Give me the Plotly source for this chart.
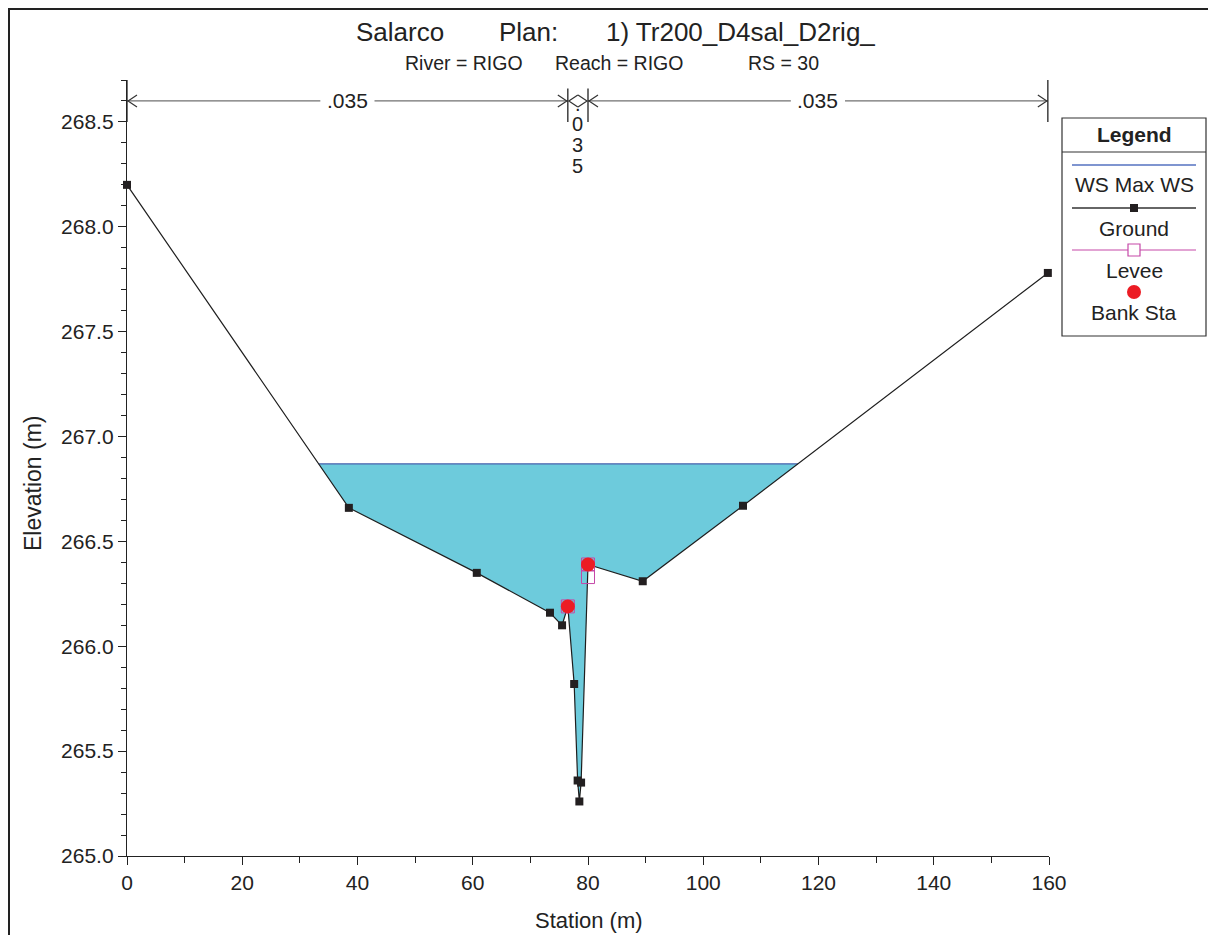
import numpy as np
import plotly.graph_objects as go

# ---------------- data ----------------
station = [0.0, 38.5, 60.7, 73.4, 75.5, 76.5, 77.6, 78.2, 78.5, 78.8, 80.0, 89.5, 106.9, 159.8]
elevation = [268.20, 266.66, 266.35, 266.16, 266.10, 266.19, 265.82, 265.36, 265.26, 265.35, 266.39, 266.31, 266.67, 267.78]
ws_elev = 266.87
levee_sta = [76.5, 80.0, 80.0]
levee_elev = [266.19, 266.39, 266.33]
bank_sta = [76.5, 80.0]
bank_elev = [266.19, 266.39]
n_breaks = [0.0, 76.5, 80.0, 159.8]
n_values = [".035", ".035", ".035"]
x_ticks = [0, 20, 40, 60, 80, 100, 120, 140, 160]
y_ticks = [265.0, 265.5, 266.0, 266.5, 267.0, 267.5, 268.0, 268.5]

# page body has an 8px margin: figure sits at (8, 8) in the window
O = 8
W, H = 1216 - O, 935 - O
L, R, T, B = 127 - O, 167, 80 - O, 79
XR = [0, 160]
YR = [265.0, 268.70]

def px(p):  # reference window pixel x -> paper
    return (p - O - L) / (W - L - R)

def py(p):  # reference window pixel y -> paper
    return (H - B - (p - O)) / (H - T - B)

FONT = "Liberation Sans, Arial, Helvetica, sans-serif"

# water surface intersections with ground
st = np.array(station)
el = np.array(elevation)
def crossings(st, el, ws):
    xs = []
    for i in range(len(st) - 1):
        a, b = el[i] - ws, el[i + 1] - ws
        if a == 0:
            xs.append(st[i])
        elif a * b < 0:
            xs.append(st[i] + (st[i + 1] - st[i]) * a / (a - b))
    return xs
cx = crossings(st, el, ws_elev)
xl, xr = cx[0], cx[-1]
inner = (st > xl) & (st < xr)
poly_x = [xl, xr] + list(st[inner][::-1]) + [xl]
poly_y = [ws_elev, ws_elev] + list(el[inner][::-1]) + [ws_elev]

fig = go.Figure()
fig.add_trace(go.Scatter(x=poly_x, y=poly_y, fill="toself", fillcolor="#6dcbdc",
                         line=dict(width=0), mode="lines", hoverinfo="skip", showlegend=False))
fig.add_trace(go.Scatter(x=[xl, xr], y=[ws_elev, ws_elev], mode="lines",
                         line=dict(color="#4a62ae", width=1.2), name="WS Max WS", showlegend=False))
fig.add_trace(go.Scatter(x=station, y=elevation, mode="lines+markers", cliponaxis=False,
                         line=dict(color="#1e1e1e", width=1.2),
                         marker=dict(symbol="square", size=8, color="#231f20"),
                         name="Ground", showlegend=False))
fig.add_trace(go.Scatter(x=levee_sta, y=levee_elev, mode="markers",
                         marker=dict(symbol="square-open", size=13, color="#c548a8", line=dict(width=1)),
                         name="Levee", showlegend=False))
fig.add_trace(go.Scatter(x=bank_sta, y=bank_elev, mode="markers",
                         marker=dict(symbol="circle", size=14, color="#ec1c24"),
                         name="Bank Sta", showlegend=False))

shapes = []
annotations = []

def ann(x, y, text, size=21, xref="paper", yref="paper", xanchor="center", **kw):
    d = dict(x=x, y=y, xref=xref, yref=yref, text=text, showarrow=False,
             xanchor=xanchor, yanchor="middle",
             font=dict(size=size, color="#222", family=FONT))
    d.update(kw)
    annotations.append(d)

# Manning's n bars and arrows
arrow_y = 268.60
gray = "#707070"
for i, nv in enumerate(n_values):
    a, b = n_breaks[i], n_breaks[i + 1]
    mid = (a + b) / 2
    wide = (b - a) > 20
    if wide:
        gap = 4.7
        shapes.append(dict(type="line", xref="x", yref="y", x0=a, x1=mid - gap, y0=arrow_y, y1=arrow_y,
                           line=dict(color=gray, width=1.2)))
        shapes.append(dict(type="line", xref="x", yref="y", x0=mid + gap, x1=b, y0=arrow_y, y1=arrow_y,
                           line=dict(color=gray, width=1.2)))
        ann(mid, arrow_y, nv, size=21, xref="x", yref="y")
    else:
        for k, ch in enumerate(list(nv)):
            yy = [268.585, 268.49, 268.39, 268.29][k]
            ann(mid, yy, ch, size=20, xref="x", yref="y")
    # chevrons
    shapes.append(dict(type="path", xref="x", yref="y", xsizemode="pixel", ysizemode="pixel",
                       xanchor=a, yanchor=arrow_y, path="M 10,6 L 1,0 L 10,-6",
                       line=dict(color="#333", width=1.2)))
    shapes.append(dict(type="path", xref="x", yref="y", xsizemode="pixel", ysizemode="pixel",
                       xanchor=b, yanchor=arrow_y, path="M -10,6 L -1,0 L -10,-6",
                       line=dict(color="#333", width=1.2)))
for j, xb in enumerate(n_breaks):
    top = 268.70 if j in (0, len(n_breaks) - 1) else 268.66
    shapes.append(dict(type="line", xref="x", yref="y", x0=xb, x1=xb, y0=268.50, y1=top,
                       line=dict(color="#222", width=1.3)))

# outer frame
shapes.append(dict(type="rect", xref="paper", yref="paper", x0=px(8.5), x1=px(1211.5), y0=py(960), y1=py(8.5),
                   line=dict(color="#222", width=3)))

# legend box
lx0, lx1 = 1062, 1206
shapes.append(dict(type="rect", xref="paper", yref="paper", x0=px(lx0), x1=px(lx1), y0=py(336), y1=py(118),
                   line=dict(color="#333", width=1.2), fillcolor="white", layer="above"))
shapes.append(dict(type="line", xref="paper", yref="paper", x0=px(lx0), x1=px(lx1), y0=py(152), y1=py(152),
                   line=dict(color="#333", width=1.2)))
lc = 1134
ann(px(lc), py(135), "<b>Legend</b>")
# WS
shapes.append(dict(type="line", xref="paper", yref="paper", x0=px(1072), x1=px(1196), y0=py(165), y1=py(165),
                   line=dict(color="#5572c0", width=1.3)))
ann(px(lc), py(185), "WS Max WS")
# Ground
shapes.append(dict(type="line", xref="paper", yref="paper", x0=px(1072), x1=px(1196), y0=py(208), y1=py(208),
                   line=dict(color="#333", width=1.3)))
shapes.append(dict(type="rect", xref="paper", yref="paper", x0=px(lc - 4), x1=px(lc + 4), y0=py(212), y1=py(204),
                   line=dict(color="#231f20", width=0), fillcolor="#231f20"))
ann(px(lc), py(228), "Ground")
# Levee
shapes.append(dict(type="line", xref="paper", yref="paper", x0=px(1072), x1=px(1196), y0=py(250), y1=py(250),
                   line=dict(color="#c548a8", width=1.2)))
shapes.append(dict(type="rect", xref="paper", yref="paper", x0=px(lc - 6), x1=px(lc + 6), y0=py(256), y1=py(244),
                   line=dict(color="#c548a8", width=1.2), fillcolor="white"))
ann(px(lc), py(270), "Levee")
# Bank Sta
shapes.append(dict(type="circle", xref="paper", yref="paper", x0=px(lc - 7), x1=px(lc + 7), y0=py(299), y1=py(285),
                   line=dict(color="#ec1c24", width=0), fillcolor="#ec1c24"))
ann(px(lc), py(312), "Bank Sta")

# titles
ann(px(354), py(32), "Salarco", size=26, xanchor="left")
ann(px(497), py(32), "Plan:", size=26, xanchor="left")
ann(px(604), py(32), "1) Tr200_D4sal_D2rig_", size=26, xanchor="left")
ann(px(403), py(63), "River = RIGO", size=19.5, xanchor="left")
ann(px(553), py(63), "Reach = RIGO", size=19.5, xanchor="left")
ann(px(746), py(63), "RS = 30", size=19.5, xanchor="left")
ann(px(589), py(921), "Station (m)", size=22)
ann(px(33), py(484), "Elevation (m)", size=23, textangle=-90)

fig.update_layout(
    width=W, height=H,
    margin=dict(l=L, r=R, t=T, b=B),
    paper_bgcolor="white", plot_bgcolor="white",
    showlegend=False,
    font=dict(family=FONT, size=21, color="#222"),
    shapes=shapes, annotations=annotations,
    xaxis=dict(range=XR, tickvals=x_ticks, ticks="outside", ticklen=8, tickcolor="#222",
               showline=True, linecolor="#222", linewidth=1.3, showgrid=False, zeroline=False,
               tickfont=dict(size=21, family=FONT, color="#222"),
               minor=dict(dtick=10, ticks="outside", ticklen=6, tickcolor="#222", showgrid=False)),
    yaxis=dict(range=YR, tickvals=y_ticks, tickformat=".1f", ticks="outside", ticklen=8, tickcolor="#222",
               showline=True, linecolor="#222", linewidth=1.3, showgrid=False, zeroline=False,
               tickfont=dict(size=21, family=FONT, color="#222"),
               minor=dict(dtick=0.1, ticks="outside", ticklen=5, tickcolor="#222", showgrid=False)),
)

fig.write_html("out.html")
